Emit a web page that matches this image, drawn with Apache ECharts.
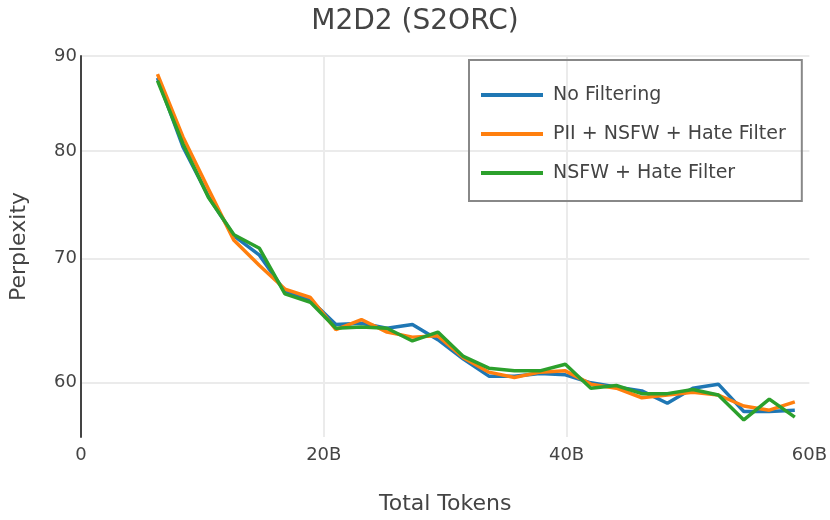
<!DOCTYPE html>
<html>
<head>
<meta charset="utf-8">
<script src="https://cdn.jsdelivr.net/npm/echarts@6/dist/echarts.min.js"></script>
<style>
html,body{margin:0;padding:0;background:#fff;}
#chart{width:830px;height:520px;}
</style>
</head>
<body>
<div id="chart"></div>
<script>
// Total tokens (billions) at each checkpoint
const tokens = [6.3, 8.4, 10.5, 12.6, 14.7, 16.8, 18.9, 21.0, 23.1, 25.2, 27.3, 29.4, 31.5, 33.6, 35.7, 37.8, 39.9, 42.0, 44.1, 46.2, 48.3, 50.4, 52.5, 54.6, 56.7, 58.8];
const noFiltering = [87.6, 80.4, 75.6, 72.0, 70.3, 67.2, 66.5, 64.5, 64.6, 64.2, 64.5, 63.3, 61.8, 60.5, 60.5, 60.7, 60.6, 60.0, 59.7, 59.4, 58.5, 59.6, 59.9, 57.9, 57.9, 58.0];
const piiNsfwHate = [88.0, 81.4, 76.3, 71.6, 69.4, 67.4, 66.7, 64.1, 64.9, 63.9, 63.5, 63.6, 61.9, 60.8, 60.4, 60.8, 60.9, 59.9, 59.6, 58.9, 59.1, 59.3, 59.1, 58.3, 58.0, 58.6];
const nsfwHate = [87.3, 80.7, 75.5, 72.1, 70.9, 67.0, 66.3, 64.2, 64.3, 64.2, 63.2, 63.9, 62.0, 61.1, 60.9, 60.9, 61.4, 59.6, 59.8, 59.2, 59.2, 59.5, 59.1, 57.3, 58.8, 57.5];
const seriesNames = ['No Filtering', 'PII + NSFW + Hate Filter', 'NSFW + Hate Filter'];
const xTicks = [0, 20, 40, 60];
const yTicks = [60, 70, 80, 90];

const colors = ['#1f77b4', '#ff7f0e', '#2ca02c'];
const font = 'DejaVu Sans';
const pair = arr => tokens.map((t, i) => [t, arr[i]]);
const allSeries = [noFiltering, piiNsfwHate, nsfwHate];

const chart = echarts.init(document.getElementById('chart'), null, {renderer: 'canvas'});
chart.setOption({
  animation: false,
  backgroundColor: '#fff',
  textStyle: {fontFamily: font},
  title: {
    text: 'M2D2 (S2ORC)',
    left: 'center',
    top: 3,
    textStyle: {fontFamily: font, fontSize: 28, fontWeight: 'normal', color: '#444'}
  },
  grid: {left: 75, right: 18, top: 56, bottom: 78, containLabel: false},
  legend: {
    orient: 'vertical',
    left: 469,
    top: 60,
    padding: [25, 16, 18, 12],
    itemGap: 19,
    itemWidth: 62,
    itemHeight: 4,
    icon: 'rect',
    borderColor: '#888',
    borderWidth: 2,
    textStyle: {fontFamily: font, fontSize: 19, color: '#444', lineHeight: 20, padding: [0, 0, 0, 5]},
    data: seriesNames
  },
  xAxis: {
    type: 'value',
    min: xTicks[0],
    max: xTicks[xTicks.length - 1],
    interval: 20,
    name: 'Total Tokens',
    nameLocation: 'middle',
    nameGap: 56,
    nameTextStyle: {fontFamily: font, fontSize: 22, color: '#444'},
    axisLine: {show: false},
    axisTick: {show: false},
    axisLabel: {
      fontFamily: font, fontSize: 18, color: '#444', margin: 9,
      formatter: v => v === 0 ? '0' : v + 'B'
    },
    splitLine: {show: true, lineStyle: {color: ['rgba(0,0,0,0)', '#ebebeb', '#ebebeb', 'rgba(0,0,0,0)'], width: 2}}
  },
  yAxis: {
    type: 'log',
    logBase: 10,
    min: 56.1,
    max: 90,
    name: 'Perplexity',
    nameLocation: 'middle',
    nameGap: 51,
    nameTextStyle: {fontFamily: font, fontSize: 22, color: '#444'},
    axisLine: {show: true, lineStyle: {color: '#444', width: 2}},
    axisTick: {show: false, customValues: yTicks},
    axisLabel: {fontFamily: font, fontSize: 18, color: '#444', margin: 4, customValues: yTicks},
    splitLine: {show: true, lineStyle: {color: '#ebebeb', width: 2}},
    minorSplitLine: {show: false}
  },
  series: allSeries.map((arr, i) => ({
    name: seriesNames[i],
    type: 'line',
    data: pair(arr),
    symbol: 'none',
    lineStyle: {width: 3.5, color: colors[i]},
    itemStyle: {color: colors[i]},
    z: 2 + i
  }))
});
</script>
</body>
</html>
